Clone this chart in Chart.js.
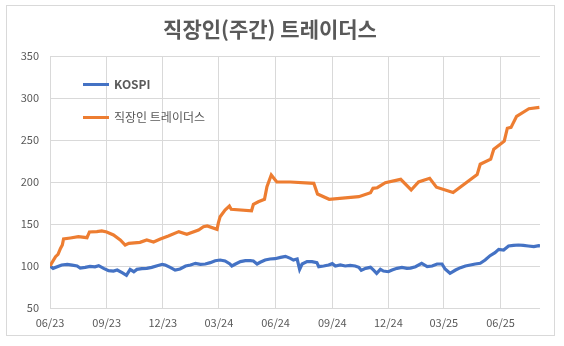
<!DOCTYPE html>
<html>
<head>
<meta charset="utf-8">
<script src="https://cdn.jsdelivr.net/npm/chart.js@4/dist/chart.umd.min.js"></script>
<style>
  html, body { margin: 0; padding: 0; background: #fff; }
  #wrap { position: relative; width: 564px; height: 346px; }
  #frame { position: absolute; left: 6px; top: 5px; width: 549px; height: 331px; border: 1px solid #d9d9d9; box-sizing: border-box; pointer-events: none; }
  canvas { position: absolute; left: 0; top: 0; }
</style>
</head>
<body>
<div id="wrap">
  <canvas id="c" width="564" height="346"></canvas>
  <div id="frame"></div>
</div>
<script>
// ---- Data (x = days since 2023-06-01) ----
const chartTitle = '직장인(주간) 트레이더스';
const seriesNames = ['KOSPI', '직장인 트레이더스'];
const tickLabels = ['06/23', '09/23', '12/23', '03/24', '06/24', '09/24', '12/24', '03/25', '06/25'];
const xMaxDay = 795;

const kospiDays = [0,5,19,28,36,44,49,57,65,73,79,87,95,103,109,117,124,130,136,141,149,157,165,174,182,187,195,203,211,220,228,236,244,252,260,268,276,284,292,295,301,309,317,325,330,336,341,349,357,365,374,382,390,395,401,405,409,417,425,433,436,444,452,458,463,471,479,487,495,501,505,512,520,525,530,536,541,549,555,563,571,579,585,593,603,612,620,628,636,641,649,658,666,674,682,690,698,706,714,722,728,736,744,752,760,768,776,785,793,795];
const kospiValues = [100,97.2,101.2,102,101,100,97.6,98.4,99.6,99,100.4,97.2,94.4,94,95.2,92,88.9,96,93.2,96,96.8,97.2,98.4,100.4,102,101.2,98.4,95.2,96.4,100,101.2,103.2,102,102.4,104,106.3,107.1,106,102.4,100,102.4,105.2,106.3,106.3,106,102.4,104.4,107.1,108.3,108.7,110.3,111.5,109.1,107.1,108.3,96,102.4,105.2,105.2,104,99.2,100,101.2,102.8,100,101.2,100,100.8,100,98.4,94.8,97.2,98.4,95.2,91.3,96,94,93.2,95.2,97.2,98.4,97.2,97.5,99.2,103.2,99.2,100,102.4,102.4,96.4,91.3,95.2,98,100,101.2,102.4,103.2,107.1,112.3,115.9,119.8,119,123.8,124.6,125,124.6,123.8,123,124.2,124];

const tradersDays = [0,9,13,17,20,22,33,46,60,64,76,84,92,103,114,122,128,146,157,168,179,192,209,222,241,249,255,271,273,276,284,291,294,327,330,338,348,352,359,368,390,428,434,453,501,520,524,531,544,569,586,598,616,627,654,693,698,715,720,737,742,748,757,777,794];
const tradersValues = [100,111.1,113.9,121,125,132.1,133.3,134.9,133.7,140.5,140.9,141.7,140.5,136.9,131,125,127,128.2,131,128.6,132.1,135.7,140.9,137.7,142.9,146.8,147.6,143.7,150.8,158.7,166.7,171.4,167.5,165.8,173.4,176.5,179.4,194.4,208.3,200,200,198.4,185.7,179.4,182.5,187.3,192.5,193.2,199.2,203.2,190.5,200,204.4,193.8,187.5,208.8,221.2,227.2,238.9,248.6,264,265,278.2,287.3,288.9];

const yMin = 50, yMax = 350, yStep = 50;

// ---- Build ----
function dayOf(label) {
  const [mm, yy] = label.split('/').map(Number);
  return Math.round((Date.UTC(2000 + yy, mm - 1, 1) - Date.UTC(2023, 5, 1)) / 86400000);
}
const tickDays = tickLabels.map(dayOf);
const toPts = (xs, ys) => xs.map((x, i) => ({ x: x, y: ys[i] }));

const FONT = "'Noto Sans CJK KR', 'Noto Sans', sans-serif";
const GRID = '#d9d9d9';
const TEXT = '#595959';

const insideLegend = {
  id: 'insideLegend',
  afterDraw(chart, args, opts) {
    const ctx = chart.ctx;
    ctx.save();
    chart.data.datasets.forEach((ds, i) => {
      const y = opts.top + i * opts.gap;
      ctx.strokeStyle = ds.borderColor;
      ctx.lineWidth = 3;
      ctx.lineCap = 'butt';
      ctx.beginPath();
      ctx.moveTo(opts.left, y);
      ctx.lineTo(opts.left + opts.lineLen, y);
      ctx.stroke();
      ctx.fillStyle = TEXT;
      ctx.font = (i === 0 ? 'bold ' : '') + '12px ' + FONT;
      ctx.textBaseline = 'middle';
      ctx.textAlign = 'left';
      ctx.fillText(ds.label, opts.left + opts.lineLen + 5, y);
    });
    ctx.restore();
  }
};

new Chart(document.getElementById('c'), {
  type: 'line',
  data: {
    datasets: [
      { label: seriesNames[0], data: toPts(kospiDays, kospiValues), borderColor: '#4472C4', backgroundColor: '#4472C4', borderWidth: 3.2, pointRadius: 0, tension: 0, order: 1 },
      { label: seriesNames[1], data: toPts(tradersDays, tradersValues), borderColor: '#ED7D31', backgroundColor: '#ED7D31', borderWidth: 3.2, pointRadius: 0, tension: 0, order: 0 }
    ]
  },
  options: {
    responsive: false,
    animation: false,
    devicePixelRatio: 1,
    layout: { padding: { left: 0, right: 24, top: 0, bottom: 0 } },
    plugins: {
      legend: { display: false },
      tooltip: { enabled: false },
      title: {
        display: true,
        text: chartTitle,
        color: TEXT,
        font: { family: FONT, size: 21, weight: 'bold', lineHeight: 1.2 },
        padding: { top: 16.5, bottom: 14.3 }
      },
      insideLegend: { left: 83, top: 84.5, gap: 33, lineLen: 26 }
    },
    scales: {
      x: {
        type: 'linear',
        min: 0,
        max: xMaxDay,
        afterBuildTicks(scale) { scale.ticks = tickDays.map(v => ({ value: v })); },
        afterFit(scale) { scale.height = 38; },
        ticks: {
          autoSkip: false, maxRotation: 0, minRotation: 0, padding: 8,
          color: TEXT, font: { family: FONT, size: 11 },
          callback(value) { const i = tickDays.indexOf(value); return i >= 0 ? tickLabels[i] : ''; }
        },
        grid: { color: GRID, lineWidth: 1, drawTicks: false },
        border: { display: false }
      },
      y: {
        min: yMin, max: yMax,
        afterFit(scale) { scale.width = 50; },
        ticks: { stepSize: yStep, padding: 11, color: TEXT, font: { family: FONT, size: 11 } },
        grid: { color: GRID, lineWidth: 1, drawTicks: false },
        border: { display: false }
      }
    }
  },
  plugins: [insideLegend]
});
</script>
</body>
</html>
